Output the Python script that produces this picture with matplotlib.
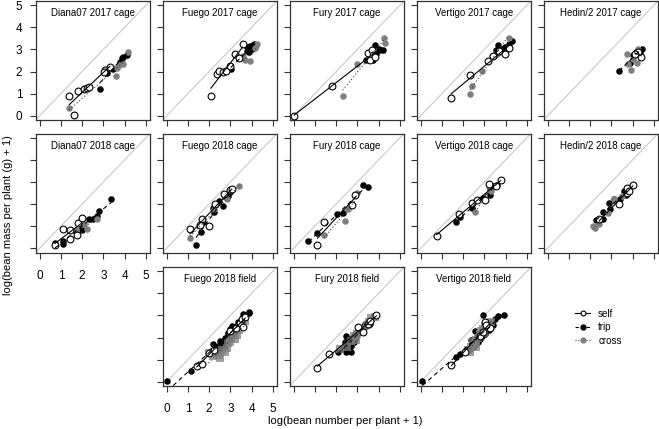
import matplotlib
matplotlib.use("Agg")
import matplotlib.pyplot as plt
import numpy as np
from matplotlib.lines import Line2D

plt.rcParams['font.family'] = ['Liberation Sans', 'DejaVu Sans']

# points: (log bean number + 1, log bean mass + 1)
diana17_self = [(1.39, 0.87), (1.61, 0.03), (1.81, 1.10), (2.08, 1.19), (2.21, 1.27),
                (2.32, 1.31), (3.08, 2.09), (3.31, 2.21), (3.05, 1.98)]
diana17_trip = [(2.84, 1.22), (3.15, 1.94), (3.12, 2.06), (3.47, 2.12), (3.79, 2.42),
                (3.86, 2.61), (3.94, 2.66), (4.10, 2.76)]
diana17_cross = [(1.39, 0.33), (3.60, 1.79), (3.63, 2.16), (3.91, 2.36), (4.18, 2.87),
                 (3.75, 2.30)]

fuego17_self = [(2.08, 0.90), (2.36, 1.89), (2.48, 2.02), (2.67, 1.99), (2.80, 2.02),
                (2.99, 2.26), (3.22, 2.78), (3.58, 3.26), (3.40, 2.60)]
fuego17_trip = [(3.02, 2.11), (3.77, 2.95), (3.85, 3.05), (3.90, 2.90), (3.95, 3.15),
                (4.00, 3.00), (4.05, 3.20), (4.12, 3.26), (4.17, 3.10), (3.80, 3.10)]
fuego17_cross = [(3.69, 2.51), (3.93, 2.48), (4.28, 3.26), (4.15, 3.05), (3.60, 2.70)]

fury17_self = [(0.02, 0.0), (1.79, 1.35), (3.49, 2.84), (3.68, 2.96), (3.73, 2.74),
               (3.60, 2.51), (3.84, 2.66)]
fury17_trip = [(3.41, 2.51), (3.76, 2.51), (3.84, 3.19), (4.00, 3.04), (4.07, 2.96),
               (4.23, 2.99), (3.90, 2.80)]
fury17_cross = [(2.31, 0.90), (2.97, 2.32), (4.26, 3.53), (4.31, 3.31), (3.55, 2.60)]

vertigo17_self = [(1.43, 0.81), (2.33, 1.85), (3.19, 2.48), (3.40, 2.69), (3.98, 2.81),
                  (4.18, 3.08), (3.70, 2.95)]
vertigo17_trip = [(3.51, 2.74), (3.55, 2.96), (3.66, 3.19), (3.82, 3.04), (3.98, 3.11),
                  (4.14, 3.26), (4.29, 3.38), (3.70, 2.90)]
vertigo17_cross = [(2.33, 0.97), (2.41, 1.35), (2.88, 2.04), (3.35, 2.70), (4.14, 3.53),
                   (3.60, 2.80)]

hedin17_self = [(4.40, 2.66), (4.28, 2.87), (4.10, 2.80)]
hedin17_trip = [(3.36, 2.02), (3.88, 2.39), (4.04, 2.74), (4.20, 2.81), (4.28, 2.96),
                (4.36, 2.89), (4.43, 3.00), (4.15, 2.90)]
hedin17_cross = [(3.73, 2.81), (3.91, 2.09), (4.20, 2.39), (3.77, 2.33), (4.28, 3.04),
                 (4.00, 2.55)]

diana18_self = [(0.72, 0.12), (1.12, 0.88), (1.43, 0.80), (1.43, 0.42), (1.75, 0.58),
                (1.82, 1.14), (1.98, 1.37)]
diana18_trip = [(0.72, 0.24), (1.12, 0.20), (1.12, 0.30), (1.98, 0.80), (2.34, 1.30),
                (2.53, 1.33), (2.69, 1.44), (2.81, 1.68), (3.36, 2.24)]
diana18_cross = [(1.71, 0.80), (2.22, 0.88), (2.69, 1.33), (2.10, 1.10)]

fuego18_self = [(1.10, 0.85), (1.65, 1.30), (1.97, 1.00), (1.55, 1.05), (2.28, 2.00),
                (2.70, 2.45), (3.00, 2.64), (3.07, 2.67)]
fuego18_trip = [(1.38, 0.12), (1.60, 0.75), (1.73, 1.20), (2.20, 1.84), (2.48, 2.14),
                (2.64, 1.92), (2.91, 2.37), (2.99, 2.55), (2.25, 1.65)]
fuego18_cross = [(1.10, 0.46), (1.57, 1.02), (2.23, 1.77), (2.83, 2.22), (3.43, 2.81)]

fury18_self = [(1.12, 0.12), (1.43, 1.19), (2.74, 1.94), (2.89, 2.39)]
fury18_trip = [(0.69, 0.34), (1.12, 0.69), (2.06, 1.54), (2.31, 1.58), (3.25, 2.88),
               (3.52, 2.78)]
fury18_cross = [(1.43, 0.60), (2.42, 1.24), (2.58, 1.79), (2.97, 2.48)]

vertigo18_self = [(0.75, 0.57), (1.82, 1.54), (2.41, 2.03), (2.67, 2.18), (3.04, 2.16),
                  (3.24, 2.93), (3.55, 2.81), (3.77, 3.07)]
vertigo18_trip = [(1.67, 1.19), (1.86, 1.39), (2.41, 1.84), (2.93, 2.28), (3.27, 2.43),
                  (3.27, 2.66), (3.43, 2.84), (3.58, 2.88)]
vertigo18_cross = [(2.58, 1.64), (3.24, 2.81), (3.30, 2.60)]

hedin18_self = [(2.44, 1.31), (3.38, 1.99), (3.76, 2.51), (3.73, 2.73), (4.01, 2.88),
                (3.85, 2.60)]
hedin18_trip = [(2.28, 1.28), (2.59, 1.31), (2.59, 1.64), (2.94, 1.79), (2.91, 2.03),
                (3.13, 2.21), (3.41, 2.24), (3.60, 2.58), (3.69, 2.43)]
hedin18_cross = [(2.12, 0.99), (2.23, 0.90), (2.44, 1.09), (2.86, 1.61), (3.13, 2.21),
                 (3.50, 2.35)]

fuegofield_self = [(1.42, 0.69), (1.65, 0.79), (2.01, 1.32), (2.25, 1.45), (3.00, 2.30),
                   (3.25, 2.45), (3.46, 2.66), (3.58, 2.48), (3.53, 2.84), (3.70, 2.95)]
fuegofield_trip = [(0.03, 0.02), (1.13, 0.46), (2.10, 1.40), (2.20, 1.69), (2.28, 1.34),
                   (2.35, 1.50), (2.44, 1.61), (2.50, 1.85), (2.52, 1.43), (2.60, 1.70),
                   (2.67, 1.76), (2.70, 1.55), (2.75, 2.00), (2.83, 1.91), (2.88, 2.15),
                   (2.91, 2.21), (2.95, 1.95), (3.00, 2.40), (3.06, 2.21), (3.10, 2.50),
                   (3.14, 2.36), (3.20, 2.30), (3.30, 2.51), (3.35, 2.70), (3.43, 2.66),
                   (3.50, 2.55), (3.60, 2.90), (3.62, 3.05), (3.90, 3.13), (3.88, 3.18)]
fuegofield_cross = [(1.97, 1.28), (2.20, 1.16), (2.35, 1.30), (2.52, 1.09), (2.60, 1.45),
                    (2.75, 1.34), (2.83, 1.54), (2.90, 1.75), (2.99, 1.79), (3.05, 2.00),
                    (3.15, 2.15), (3.30, 2.13), (3.40, 2.35), (3.55, 2.60), (3.70, 2.75),
                    (2.45, 1.20), (3.20, 1.95)]

furyfield_self = [(1.12, 0.60), (1.65, 1.26), (3.03, 2.47), (3.27, 2.24), (3.51, 2.60),
                  (3.60, 2.75), (3.90, 3.04)]
furyfield_trip = [(2.09, 1.36), (2.30, 1.50), (2.41, 1.79), (2.45, 1.35), (2.48, 2.09),
                  (2.53, 1.56), (2.56, 1.91), (2.60, 1.75), (2.64, 1.71), (2.69, 1.33),
                  (2.70, 1.62), (2.75, 2.00), (2.80, 1.94), (2.85, 1.80), (2.88, 2.17),
                  (2.95, 2.05), (3.03, 2.24), (3.05, 2.35), (3.11, 2.39), (3.20, 2.30),
                  (3.27, 2.47), (3.35, 2.62), (3.40, 2.50), (3.51, 2.70), (3.60, 2.60),
                  (2.40, 1.65), (2.60, 1.45), (2.90, 1.95)]
furyfield_cross = [(2.17, 1.48), (2.50, 1.55), (2.70, 1.85), (2.85, 2.05), (3.00, 2.15),
                   (3.10, 2.25), (3.25, 2.40), (3.45, 2.55), (3.66, 2.88), (3.82, 2.92),
                   (3.55, 2.70), (2.95, 1.90)]

vertigofield_self = [(1.45, 0.76), (2.08, 1.33), (2.78, 2.06), (2.94, 2.24), (3.02, 2.69),
                     (3.25, 2.42), (3.10, 2.55)]
vertigofield_trip = [(0.08, 0.02), (1.68, 1.10), (1.84, 1.26), (2.20, 1.45), (2.31, 1.48),
                     (2.40, 1.70), (2.45, 1.55), (2.50, 1.85), (2.58, 1.65), (2.62, 2.00),
                     (2.70, 1.80), (2.75, 2.10), (2.80, 1.95), (2.85, 2.25), (2.90, 2.05),
                     (2.94, 3.03), (3.00, 2.30), (3.05, 2.15), (3.10, 2.45), (3.20, 2.35),
                     (3.30, 2.60), (3.40, 2.55), (3.49, 2.82), (3.65, 2.97), (3.92, 3.03),
                     (2.55, 2.30), (2.35, 1.90)]
vertigofield_cross = [(2.23, 1.45), (2.39, 1.56), (2.47, 1.79), (2.55, 1.70), (2.62, 1.90),
                      (2.70, 2.00), (2.78, 2.17), (2.85, 2.30), (2.94, 2.39), (3.05, 2.50),
                      (3.18, 2.52), (3.25, 2.65), (3.33, 2.70), (2.30, 1.35), (2.60, 1.55),
                      (3.00, 2.20)]

# (title, row, col, self, trip, cross, field)
panels = [
    ("Diana07 2017 cage", 0, 0, diana17_self, diana17_trip, diana17_cross, False),
    ("Fuego 2017 cage", 0, 1, fuego17_self, fuego17_trip, fuego17_cross, False),
    ("Fury 2017 cage", 0, 2, fury17_self, fury17_trip, fury17_cross, False),
    ("Vertigo 2017 cage", 0, 3, vertigo17_self, vertigo17_trip, vertigo17_cross, False),
    ("Hedin/2 2017 cage", 0, 4, hedin17_self, hedin17_trip, hedin17_cross, False),
    ("Diana07 2018 cage", 1, 0, diana18_self, diana18_trip, diana18_cross, False),
    ("Fuego 2018 cage", 1, 1, fuego18_self, fuego18_trip, fuego18_cross, False),
    ("Fury 2018 cage", 1, 2, fury18_self, fury18_trip, fury18_cross, False),
    ("Vertigo 2018 cage", 1, 3, vertigo18_self, vertigo18_trip, vertigo18_cross, False),
    ("Hedin/2 2018 cage", 1, 4, hedin18_self, hedin18_trip, hedin18_cross, False),
    ("Fuego 2018 field", 2, 1, fuegofield_self, fuegofield_trip, fuegofield_cross, True),
    ("Fury 2018 field", 2, 2, furyfield_self, furyfield_trip, furyfield_cross, True),
    ("Vertigo 2018 field", 2, 3, vertigofield_self, vertigofield_trip, vertigofield_cross, True),
]

ticks = [0, 1, 2, 3, 4, 5]
gray = '#808080'

W, H = 659, 429
fig = plt.figure(figsize=(W / 100, H / 100), dpi=100)

col_left = [35.5, 162.5, 289.5, 416.5, 543.5]
row_top = [1, 133.5, 267]
pw, ph = 114.5, 119


def fit_line(ax, pts, ls, color):
    a = np.array(pts)
    if len(a) < 2:
        return
    b, c = np.polyfit(a[:, 0], a[:, 1], 1)
    xs = np.array([a[:, 0].min(), a[:, 0].max()])
    ax.plot(xs, b * xs + c, ls=ls, color=color, lw=0.8, zorder=5)


for title, r, c, s_pts, t_pts, c_pts, field in panels:
    ax = fig.add_axes([col_left[c] / W, 1 - (row_top[r] + ph) / H, pw / W, ph / H])
    ax.set_xlim(-0.2, 5.2)
    ax.set_ylim(-0.2, 5.2)
    ax.plot([-0.2, 5.2], [-0.2, 5.2], color='#c8c8c8', lw=0.8, zorder=1)

    tp = np.array(t_pts)
    ax.scatter(tp[:, 0], tp[:, 1], marker='o', s=22, color='black', linewidths=0, zorder=2)
    cp = np.array(c_pts)
    if field:
        # cross plants in the field shown as translucent gray squares
        ax.scatter(cp[:, 0], cp[:, 1], marker='s', s=30, color=gray, alpha=0.75,
                   linewidths=0, zorder=3)
    else:
        ax.scatter(cp[:, 0], cp[:, 1], marker='o', s=22, color=gray,
                   linewidths=0, zorder=3)
    sp = np.array(s_pts)
    ax.scatter(sp[:, 0], sp[:, 1], marker='o', s=24, facecolors='white',
               edgecolors='black', linewidths=0.8, zorder=4)

    fit_line(ax, s_pts, '-', 'black')
    fit_line(ax, t_pts, (0, (4, 3)), 'black')
    fit_line(ax, c_pts, (0, (1, 2)), '#404040')

    ax.text(0.5, 0.895, title, transform=ax.transAxes, ha='center', va='center',
            fontsize=7)

    ax.set_xticks(ticks)
    ax.set_yticks(ticks)
    ax.tick_params(direction='out', length=4.5, width=0.8, labelsize=8.5,
                   color='#333333')
    ax.tick_params(axis='x', pad=8)
    ax.tick_params(axis='y', pad=5)
    show_x = (r == 1 and c == 0) or (r == 2 and c == 1)
    show_y = (r == 0 and c == 0)
    ax.set_xticklabels([str(t) for t in ticks] if show_x else [])
    ax.set_yticklabels([str(t) for t in ticks] if show_y else [])
    for sp_ in ax.spines.values():
        sp_.set_linewidth(0.9)
        sp_.set_color('#333333')

fig.text(8 / W, 1 - 215 / H, "log(bean mass per plant (g) + 1)", rotation=90,
         ha='center', va='center', fontsize=8)
fig.text(345 / W, 1 - 421 / H, "log(bean number per plant + 1)", ha='center',
         va='center', fontsize=8)

handles = [
    Line2D([], [], color='black', ls='-', lw=0.8, marker='o', ms=3.5,
           mfc='white', mec='black', mew=0.8),
    Line2D([], [], color='black', ls=(0, (3, 2)), lw=0.8, marker='o', ms=3.5,
           mfc='black', mec='black'),
    Line2D([], [], color='#404040', ls=(0, (1, 1.5)), lw=0.8, marker='o', ms=3.5,
           mfc=gray, mec=gray),
]
fig.legend(handles, ['self', 'trip', 'cross'], loc='upper left',
           bbox_to_anchor=(570 / W, 1 - 304 / H), frameon=False, fontsize=7,
           handlelength=1.6, handletextpad=0.8, labelspacing=0.35, borderpad=0)

fig.savefig("out.png", dpi=100)
